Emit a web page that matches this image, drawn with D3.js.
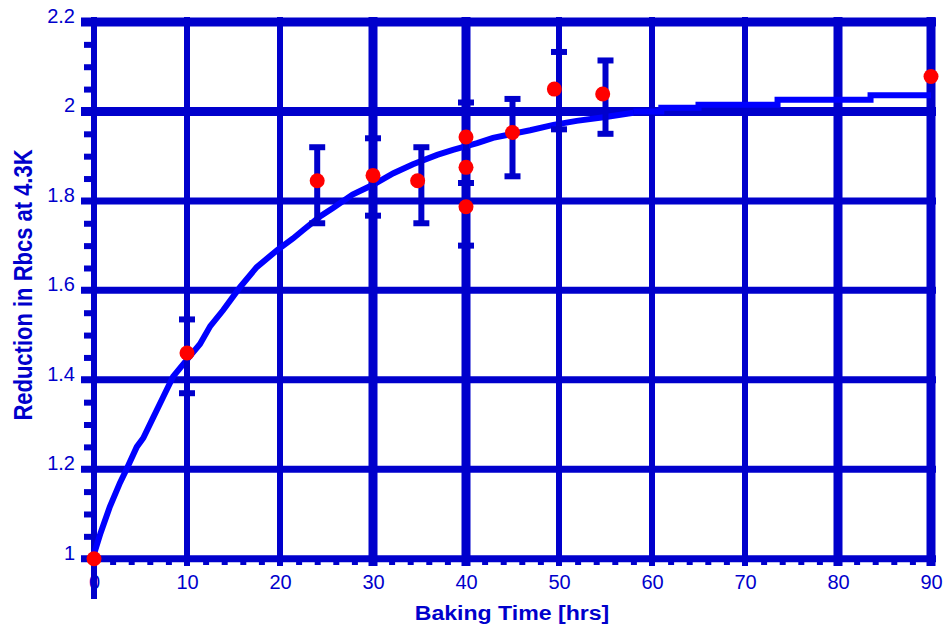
<!DOCTYPE html>
<html>
<head>
<meta charset="UTF-8">
<style>
  body { margin: 0; background: #fff; }
  svg { display: block; font-family: "Liberation Sans", Arial, sans-serif; }
  .tick text { fill: #0000cc; font-size: 20px; }
  .domain { display: none; }
</style>
</head>
<body>
<svg width="945" height="628"></svg>
<script src="https://d3js.org/d3.v7.min.js"></script>
<script>
// measured points (red dots)
const hrs = [0, 10, 24, 30, 34.8, 40, 40, 40, 45, 49.5, 54.7, 90];
const reduction = [1.0, 1.46, 1.845, 1.857, 1.845, 1.943, 1.875, 1.787, 1.953, 2.05, 2.039, 2.078];

// error bars
const errHrs = [10, 24, 30, 35.2, 40, 40, 45, 50, 55];
const errLow = [1.37, 1.75, 1.767, 1.75, 1.84, 1.70, 1.855, 1.96, 1.95];
const errHigh = [1.535, 1.92, 1.94, 1.92, 2.02, 1.84, 2.028, 2.133, 2.114];

// fitted curve, rising part
const fitHrs = [0, 0.7, 1.7, 2.8, 3.5, 4.6, 5.3, 6.4, 7.4, 8.5, 10, 11.4, 12.5, 13.9, 15.7, 17.5, 19.7, 21.4, 22.5, 24.3, 25.7, 27.8, 30, 32.2, 34.3, 36.9, 38.6, 41.2, 42.9, 46.9, 49.4, 51.9, 55.2, 58];
const fitVal = [1.01, 1.057, 1.116, 1.17, 1.2, 1.25, 1.27, 1.317, 1.36, 1.407, 1.445, 1.48, 1.52, 1.556, 1.607, 1.652, 1.69, 1.716, 1.735, 1.765, 1.784, 1.814, 1.836, 1.862, 1.882, 1.903, 1.914, 1.929, 1.941, 1.958, 1.97, 1.979, 1.988, 1.997];
// flat tail of the curve (drawn in steps)
const tailHrs = [58, 61, 65, 73.5, 83.5, 90];
const tailVal = [2.0, 2.008, 2.015, 2.026, 2.036, 2.036];

const xTicks = [0, 10, 20, 30, 40, 50, 60, 70, 80, 90];
const yTicks = [1, 1.2, 1.4, 1.6, 1.8, 2, 2.2];

const gridColor = "#0000cc";
const svg = d3.select("svg");

const x = d3.scaleLinear().domain([0, 90]).range([94, 931]);
const y = d3.scaleLinear().domain([1, 2.2]).range([558.7, 22]);

// grid lines
svg.append("g").selectAll("line")
  .data(yTicks)
  .join("line")
  .attr("x1", 81).attr("x2", 936)
  .attr("y1", d => y(d)).attr("y2", d => y(d))
  .attr("stroke", gridColor)
  .attr("stroke-width", d => (d == 2.2 || d == 2) ? 9 : 7);

svg.append("g").selectAll("line")
  .data(xTicks)
  .join("line")
  .attr("x1", d => x(d)).attr("x2", d => x(d))
  .attr("y1", 17)
  .attr("y2", d => d == 0 ? 599 : 566)
  .attr("stroke", gridColor)
  .attr("stroke-width", d => [30, 40, 80, 90].includes(d) ? 9 : 6);

// minor ticks
let yMinor = d3.range(1.05, 2.2, 0.05).filter(v => Math.abs(v * 5 - Math.round(v * 5)) > 0.01);
svg.append("g")
  .attr("transform", "translate(94,0)")
  .call(d3.axisLeft(y).tickValues(yMinor).tickSize(10).tickFormat(""))
  .selectAll("line").attr("stroke", gridColor).attr("stroke-width", 6);

let xMinor = d3.range(2, 90, 2).filter(v => v % 10 != 0);
svg.append("g")
  .attr("transform", "translate(0,559)")
  .call(d3.axisBottom(x).tickValues(xMinor).tickSize(6).tickFormat(""))
  .selectAll("line").attr("stroke", gridColor).attr("stroke-width", 6);

// tick labels
svg.append("g")
  .attr("transform", "translate(94,0)")
  .call(d3.axisLeft(y).tickValues(yTicks).tickSize(0).tickPadding(19).tickFormat(d3.format("~g")))
  .selectAll("text").attr("dy", "0.02em");

svg.append("g")
  .attr("transform", "translate(0,559)")
  .call(d3.axisBottom(x).tickValues(xTicks).tickSize(0).tickPadding(16));

// axis titles
svg.append("text")
  .attr("transform", "translate(32,285) scale(1.2,1) rotate(-90)")
  .attr("text-anchor", "middle")
  .attr("font-size", 22).attr("font-weight", "bold")
  .attr("fill", gridColor)
  .text("Reduction in Rbcs at 4.3K");

svg.append("text")
  .attr("transform", "translate(512,620) scale(1.1,1)")
  .attr("text-anchor", "middle")
  .attr("font-size", 21).attr("font-weight", "bold")
  .attr("fill", gridColor)
  .text("Baking Time [hrs]");

// fitted curve
svg.append("path")
  .datum(d3.zip(fitHrs, fitVal))
  .attr("d", d3.line().x(d => x(d[0])).y(d => y(d[1])))
  .attr("fill", "none").attr("stroke", "#0000ff").attr("stroke-width", 6);

svg.append("path")
  .datum(d3.zip(tailHrs, tailVal))
  .attr("d", d3.line().x(d => x(d[0])).y(d => y(d[1])).curve(d3.curveStepAfter))
  .attr("fill", "none").attr("stroke", "#0000ff").attr("stroke-width", 6);

// error bars
let err = d3.zip(errHrs, errLow, errHigh);
let eb = svg.append("g").attr("stroke", gridColor).attr("stroke-width", 6);
eb.selectAll(".stem").data(err).join("line")
  .attr("x1", d => x(d[0])).attr("x2", d => x(d[0]))
  .attr("y1", d => y(d[1])).attr("y2", d => y(d[2]));
eb.selectAll(".lo").data(err).join("line")
  .attr("x1", d => x(d[0]) - 8).attr("x2", d => x(d[0]) + 8)
  .attr("y1", d => y(d[1])).attr("y2", d => y(d[1]));
eb.selectAll(".hi").data(err).join("line")
  .attr("x1", d => x(d[0]) - 8).attr("x2", d => x(d[0]) + 8)
  .attr("y1", d => y(d[2])).attr("y2", d => y(d[2]));

// data points
svg.append("g").selectAll("circle")
  .data(d3.zip(hrs, reduction))
  .join("circle")
  .attr("cx", d => x(d[0]))
  .attr("cy", d => y(d[1]))
  .attr("r", 7.5)
  .attr("fill", "#ff0000");
</script>
</body>
</html>
